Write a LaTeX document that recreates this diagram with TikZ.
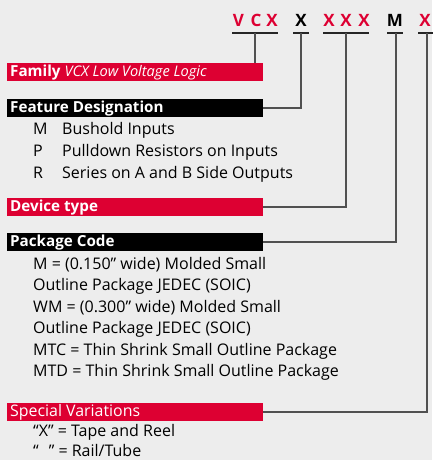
\documentclass[tikz,border=0pt]{standalone}
\usepackage{fontspec}
\setmainfont{Open Sans}
\definecolor{bgc}{RGB}{237,237,237}
\definecolor{nsred}{RGB}{221,0,50}
\definecolor{linec}{RGB}{80,80,80}
\begin{document}
\begin{tikzpicture}[x=1pt,y=-1pt,
  barbox/.style={anchor=north west,minimum width=256pt,minimum height=18pt,inner sep=0pt,outer sep=0pt,text=white},
  redbar/.style={barbox,fill=nsred},
  blackbar/.style={barbox,fill=black},
  bartitle/.style={anchor=base west,inner sep=0pt,text=white,font=\fontsize{15.2}{17}\selectfont\bfseries},
  body/.style={anchor=base west,inner sep=0pt,font=\fontsize{16}{18}\selectfont},
  code/.style={anchor=base,inner sep=0pt,font=\fontsize{17}{19}\selectfont\bfseries},
  conn/.style={draw=linec,line width=1.1pt},
  uline/.style={draw=black!85,line width=1.1pt}]
\fill[bgc] (0,0) rectangle (432,460);
\useasboundingbox (0,0) rectangle (432,460);
% code letters
\node[code,text=nsred] (c1) at (238.5,27) {V};
\node[code,text=nsred] (c2) at (256,27) {C};
\node[code,text=nsred] (c3) at (272,27) {X};
\node[code,text=black] (c4) at (301,27) {X};
\node[code,text=nsred] (c5) at (329,27) {X};
\node[code,text=nsred] (c6) at (346,27) {X};
\node[code,text=nsred] (c7) at (364,27) {X};
\node[code,text=black] (c8) at (395,27) {M};
\node[code,text=nsred] (c9) at (425,27) {X};
% underlines
\coordinate (u1a) at (232,33); \coordinate (u1b) at (278,33);
\coordinate (u2a) at (293,33); \coordinate (u2b) at (309,33);
\coordinate (u3a) at (323,33); \coordinate (u3b) at (369,33);
\coordinate (u4a) at (387,33); \coordinate (u4b) at (403,33);
\coordinate (u5a) at (418,33); \coordinate (u5b) at (433,33);
\foreach \i in {1,...,5} {\draw[uline] (u\i a) -- (u\i b);}
% bars
\node[redbar] (fam) at (7,63) {};
\node[blackbar] (feat) at (7,99) {};
\node[redbar] (dev) at (7,198) {};
\node[blackbar] (pkg) at (7,233) {};
\node[redbar] (spec) at (7,403) {};
\node[bartitle] (famt) at (10,76.5) {Family \mdseries\itshape\fontsize{14.6}{17}\selectfont VCX Low Voltage Logic};
\node[bartitle] (featt) at (10,112.5) {Feature Designation};
\node[bartitle] (devt) at (10,211.5) {Device type};
\node[bartitle] (pkgt) at (10,246.5) {Package Code};
\node[bartitle,font=\fontsize{15.9}{18}\selectfont] (spect) at (10,416.5) {Special Variations};
% connectors
\coordinate (t1) at (255,33); \coordinate (t2) at (301,33);
\coordinate (t3) at (346,33); \coordinate (t4) at (396,33);
\coordinate (t5) at (427,33);
\draw[conn] (t1) -- (t1 |- fam.north);
\draw[conn] (t2) |- (feat.east);
\draw[conn] (t3) |- (dev.east);
\draw[conn] (t4) |- (pkg.east);
\draw[conn] (t5) |- (spec.east);
% feature items
\node[body] (fm) at (33,134) {M};
\node[body] (fmd) at (62,134) {Bushold Inputs};
\node[body] (fp) at (33,156) {P};
\node[body] (fpd) at (62,156) {Pulldown Resistors on Inputs};
\node[body] (fr) at (33,178) {R};
\node[body] (frd) at (62,178) {Series on A and B Side Outputs};
% package items
\node[body] (p1) at (33,269) {M = (0.150” wide) Molded Small};
\node[body] (p2) at (33,290.5) {Outline Package JEDEC (SOIC)};
\node[body] (p3) at (33,312) {WM = (0.300” wide) Molded Small};
\node[body] (p4) at (33,333.5) {Outline Package JEDEC (SOIC)};
\node[body] (p5) at (33,355) {MTC = Thin Shrink Small Outline Package};
\node[body] (p6) at (33,376.5) {MTD = Thin Shrink Small Outline Package};
% special items
\node[body] (s1) at (33,436.5) {“X” = Tape and Reel};
\node[body] (s2) at (33,456) {“\hspace{10pt}” = Rail/Tube};
\end{tikzpicture}
\end{document}
